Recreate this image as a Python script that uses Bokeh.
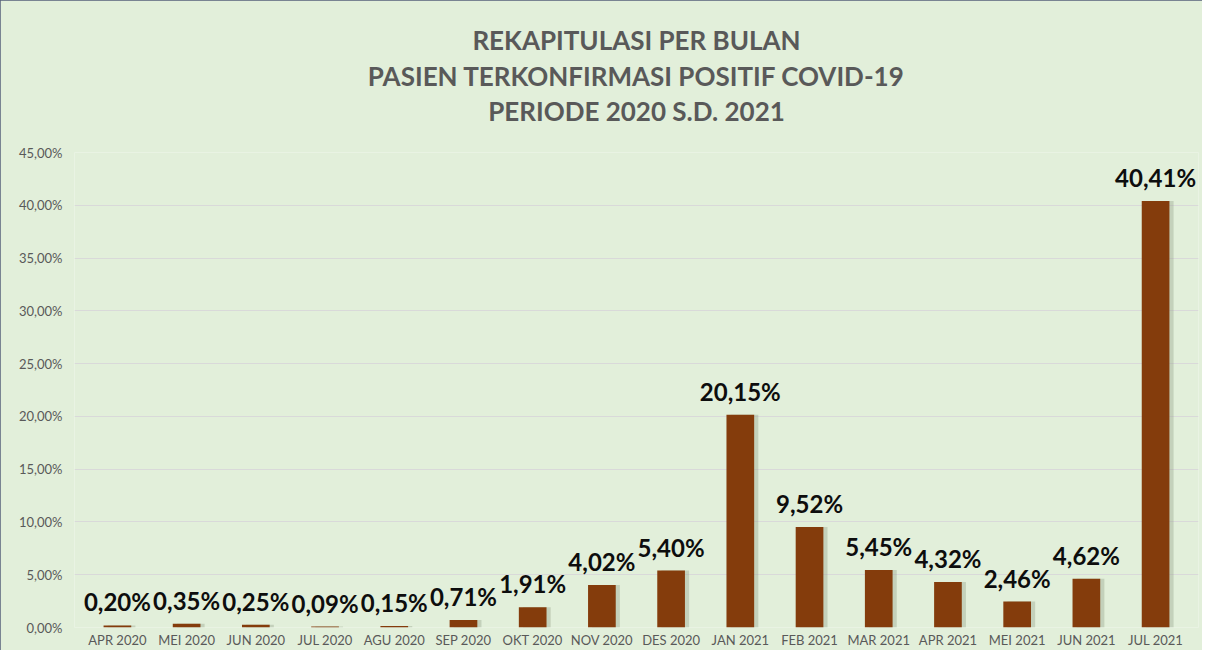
from bokeh.plotting import figure
from bokeh.models import ColumnDataSource, FixedTicker, Title, FactorRange, Range1d, LabelSet
from bokeh.transform import dodge
from bokeh.core.properties import value
from bokeh.embed import file_html
from bokeh.resources import INLINE

months = ["APR 2020", "MEI 2020", "JUN 2020", "JUL 2020", "AGU 2020", "SEP 2020",
          "OKT 2020", "NOV 2020", "DES 2020", "JAN 2021", "FEB 2021", "MAR 2021",
          "APR 2021", "MEI 2021", "JUN 2021", "JUL 2021"]
percent = [0.20, 0.35, 0.25, 0.09, 0.15, 0.71, 1.91, 4.02, 5.40, 20.15, 9.52,
           5.45, 4.32, 2.46, 4.62, 40.41]
y_ticks = [0, 5, 10, 15, 20, 25, 30, 35, 40, 45]
y_tick_labels = ["0,00%", "5,00%", "10,00%", "15,00%", "20,00%", "25,00%",
                 "30,00%", "35,00%", "40,00%", "45,00%"]
title_lines = ["REKAPITULASI PER BULAN",
               "PASIEN TERKONFIRMASI POSITIF COVID-19",
               "PERIODE 2020 S.D. 2021"]

BG = "#E2EFDA"
BAR = "#843C0C"
GRAY = "#595959"
FONT = "Lato"

labels = [f"{v:.2f}".replace(".", ",") + "%" for v in percent]
src = ColumnDataSource(dict(month=months, pct=percent, label=labels))

x_range = FactorRange(*months, range_padding=0.12, range_padding_units="absolute")
p = figure(width=1202, height=650, x_range=x_range,
           y_range=Range1d(0, 45), output_backend="svg", toolbar_location=None,
           background_fill_color=BG, border_fill_color=BG,
           min_border_left=74, min_border_right=4, min_border_top=152,
           min_border_bottom=22)
p.outline_line_color = None
p.styles = {"outline": "2px solid #56607A", "outline-offset": "-2px"}

# soft shadow behind bars
p.vbar(x=dodge("month", 0.06, range=p.x_range), top="pct", width=0.4, source=src,
       fill_color="#8C9A82", fill_alpha=0.35, line_color=None)
p.vbar(x="month", top="pct", width=0.4, source=src, fill_color=BAR, line_color=None)
p.add_layout(LabelSet(x="month", y="pct", text="label", source=src,
                      text_align="center", text_baseline="alphabetic", y_offset=14,
                      text_font=value(FONT), text_font_style="bold",
                      text_font_size="24px", text_color="#0D0D0D"))

# spacer between the title block and the plot frame
p.add_layout(Title(text=" ", text_font_size="2px", standoff=22), "above")
standoffs = [2, 2, 0]
for line, so in reversed(list(zip(title_lines, standoffs))):
    p.add_layout(Title(text=line, align="center", text_font=FONT,
                       text_font_size="26px", text_font_style="bold",
                       text_color=GRAY, standoff=so), "above")

p.yaxis.ticker = FixedTicker(ticks=y_ticks)
p.yaxis.major_label_overrides = {t_: l for t_, l in zip(y_ticks, y_tick_labels)}
for ax in (p.xaxis[0], p.yaxis[0]):
    ax.axis_line_color = None
    ax.major_tick_line_color = None
    ax.minor_tick_line_color = None
    ax.major_tick_out = 0
    ax.major_tick_in = 0
    ax.minor_tick_out = 0
    ax.minor_tick_in = 0
    ax.major_label_text_font = FONT
    ax.major_label_text_font_size = "13px"
    ax.major_label_text_color = GRAY
p.yaxis.major_label_standoff = 12
p.xaxis.major_label_standoff = 4
p.xgrid.grid_line_color = None
p.ygrid.grid_line_color = "#D9D9D9"
p.ygrid.grid_line_width = 1

open("out.html", "w").write(file_html(p, INLINE))
